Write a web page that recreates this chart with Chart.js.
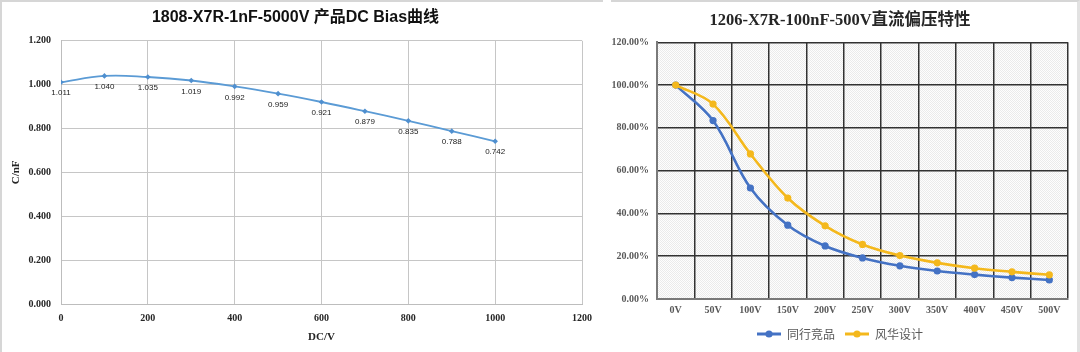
<!DOCTYPE html>
<html><head><meta charset="utf-8">
<script src="https://cdn.jsdelivr.net/npm/chart.js@4.4.1/dist/chart.umd.min.js"></script>
<style>
html,body{margin:0;padding:0;background:#fff;}
body{width:1080px;height:352px;position:relative;overflow:hidden;}
#p1{position:absolute;left:0;top:0;width:603px;height:352px;border-top:2px solid #d6d6d6;border-left:2px solid #d6d6d6;box-sizing:border-box;}
#p2{position:absolute;left:611px;top:0;width:469px;height:352px;border-top:2px solid #d6d6d6;border-right:3px solid #e2e2e2;box-sizing:border-box;}
#c1{position:absolute;left:4px;top:0;}
#c2{position:absolute;left:612px;top:0;}
</style></head>
<body>
<div id="p1"></div><div id="p2"></div>
<canvas id="c1" width="596" height="352"></canvas>
<canvas id="c2" width="466" height="352"></canvas>
<script>
// ---- data: left chart ----
const leftTitle = '1808-X7R-1nF-5000V 产品DC Bias曲线';
const leftVolts = [0, 100, 200, 300, 400, 500, 600, 700, 800, 900, 1000];
const leftCap = [1.011, 1.040, 1.035, 1.019, 0.992, 0.959, 0.921, 0.879, 0.835, 0.788, 0.742];
const leftXLabel = 'DC/V';
const leftYLabel = 'C/nF';

// ---- data: right chart ----
const rightTitle = '1206-X7R-100nF-500V直流偏压特性';
const rightCats = ['0V', '50V', '100V', '150V', '200V', '250V', '300V', '350V', '400V', '450V', '500V'];
const seriesNames = ['同行竞品', '风华设计'];
const peerValues = [100, 83.4, 51.9, 34.5, 24.8, 19.2, 15.5, 13.1, 11.4, 10.0, 8.9];
const fhValues = [100, 91.1, 67.8, 47.2, 34.2, 25.5, 20.3, 16.9, 14.4, 12.7, 11.3];

const serif = '"Liberation Serif", "Noto Sans CJK SC", serif';

// ---- left chart ----
const valueLabels = {
  id: 'valueLabels',
  afterDatasetsDraw(chart) {
    const ctx = chart.ctx;
    const meta = chart.getDatasetMeta(0);
    ctx.save();
    ctx.font = '8px "Liberation Sans", sans-serif';
    ctx.fillStyle = '#222222';
    ctx.textAlign = 'center';
    ctx.textBaseline = 'middle';
    meta.data.forEach((pt, i) => {
      ctx.fillText(leftCap[i].toFixed(3), pt.x, pt.y + 11);
    });
    ctx.restore();
  }
};

new Chart(document.getElementById('c1'), {
  type: 'line',
  data: {
    datasets: [{
      data: leftVolts.map((x, i) => ({x: x, y: leftCap[i]})),
      borderColor: '#5B9BD5',
      backgroundColor: '#5B9BD5',
      borderWidth: 1.8,
      pointStyle: 'rectRot',
      pointRadius: 2.8,
      pointBorderWidth: 0,
      pointBackgroundColor: '#4F8FCF',
      tension: 0.4,
      fill: false
    }]
  },
  options: {
    responsive: false,
    animation: false,
    devicePixelRatio: 1,
    layout: {padding: {left: 0, right: 13, top: 0, bottom: 4}},
    plugins: {
      legend: {display: false},
      tooltip: {enabled: false},
      title: {
        display: true,
        text: leftTitle,
        font: {family: '"Liberation Sans", "Noto Sans CJK SC", sans-serif', size: 16, weight: 'bold'},
        color: '#111111',
        padding: {top: 8, bottom: 13.6}
      }
    },
    scales: {
      x: {
        type: 'linear', min: 0, max: 1200,
        ticks: {stepSize: 200, callback: v => String(v), font: {family: serif, size: 10, weight: 'bold'}, color: '#262626', padding: 8},
        grid: {color: '#c6c6c6', drawTicks: false},
        border: {color: '#bdbdbd'},
        title: {display: true, text: leftXLabel, font: {family: serif, size: 11, weight: 'bold'}, color: '#262626', padding: {top: 4, bottom: 4}},
        afterFit(s) { s.height = 44; }
      },
      y: {
        min: 0, max: 1.2,
        ticks: {stepSize: 0.2, callback: v => Number(v).toFixed(3), font: {family: serif, size: 10, weight: 'bold'}, color: '#262626', padding: 10},
        grid: {color: '#c6c6c6', drawTicks: false},
        border: {color: '#bdbdbd'},
        title: {display: true, text: leftYLabel, font: {family: serif, size: 11, weight: 'bold'}, color: '#262626', padding: {top: 6, bottom: 0}},
        afterFit(s) { s.width = 57; }
      }
    }
  },
  plugins: [valueLabels]
});

// ---- right chart ----
function makePattern(ctx) {
  const c = document.createElement('canvas');
  c.width = 2; c.height = 2;
  const g = c.getContext('2d');
  g.fillStyle = '#fefefe'; g.fillRect(0, 0, 2, 2);
  g.fillStyle = '#ebebeb'; g.fillRect(0, 0, 1, 1); g.fillRect(1, 1, 1, 1);
  return ctx.createPattern(c, 'repeat');
}
const plotTexture = {
  id: 'plotTexture',
  beforeDraw(chart) {
    const {ctx, chartArea: a} = chart;
    ctx.save();
    ctx.fillStyle = makePattern(ctx);
    ctx.fillRect(a.left, a.top, a.right - a.left, a.bottom - a.top);
    ctx.restore();
  }
};
function legendIcon(color) {
  const c = document.createElement('canvas');
  c.width = 24; c.height = 10;
  const g = c.getContext('2d');
  g.strokeStyle = color; g.lineWidth = 3;
  g.beginPath(); g.moveTo(0, 5); g.lineTo(24, 5); g.stroke();
  g.fillStyle = color;
  g.beginPath(); g.arc(12, 5, 3.6, 0, Math.PI * 2); g.fill();
  return c;
}
const seriesColors = ['#4472C4', '#F4B81C'];
const icons = seriesColors.map(legendIcon);

new Chart(document.getElementById('c2'), {
  type: 'line',
  data: {
    labels: rightCats,
    datasets: [
      {label: seriesNames[0], data: peerValues, borderColor: seriesColors[0], backgroundColor: seriesColors[0],
       pointBackgroundColor: seriesColors[0], pointBorderWidth: 0, pointRadius: 3.6, borderWidth: 2.6, tension: 0.35, order: 1},
      {label: seriesNames[1], data: fhValues, borderColor: seriesColors[1], backgroundColor: seriesColors[1],
       pointBackgroundColor: seriesColors[1], pointBorderWidth: 0, pointRadius: 3.6, borderWidth: 2.6, tension: 0.35, order: 0}
    ]
  },
  options: {
    responsive: false,
    animation: false,
    devicePixelRatio: 1,
    layout: {padding: {left: 0, right: 10, top: 0, bottom: 2}},
    plugins: {
      tooltip: {enabled: false},
      title: {
        display: true,
        text: rightTitle,
        font: {family: serif, size: 16.5, weight: 'bold'},
        color: '#262626',
        padding: {top: 10.5, bottom: 12}
      },
      legend: {
        position: 'bottom',
        labels: {
          usePointStyle: true,
          pointStyleWidth: 24,
          font: {family: '"Noto Sans CJK SC", sans-serif', size: 12},
          color: '#595959',
          padding: 10,
          sort: (a, b) => a.datasetIndex - b.datasetIndex,
          generateLabels(chart) {
            const items = Chart.defaults.plugins.legend.labels.generateLabels(chart);
            items.forEach(it => { it.pointStyle = icons[it.datasetIndex]; });
            return items;
          }
        }
      }
    },
    scales: {
      x: {
        offset: true,
        grid: {offset: true, color: '#333333', lineWidth: 1.5, drawTicks: false},
        border: {color: '#7a7a7a', width: 2},
        ticks: {font: {family: serif, size: 10, weight: 'bold'}, color: '#595959', padding: 5},
        afterFit(s) { s.height = 19; }
      },
      y: {
        min: 0, max: 120,
        ticks: {stepSize: 20, callback: v => Number(v).toFixed(2) + '%', font: {family: serif, size: 10, weight: 'bold'}, color: '#595959', padding: 8},
        grid: {color: '#333333', lineWidth: 1.5, drawTicks: false},
        border: {color: '#7a7a7a', width: 2},
        afterFit(s) { s.width = 45; }
      }
    }
  },
  plugins: [plotTexture]
});
</script>
</body></html>
